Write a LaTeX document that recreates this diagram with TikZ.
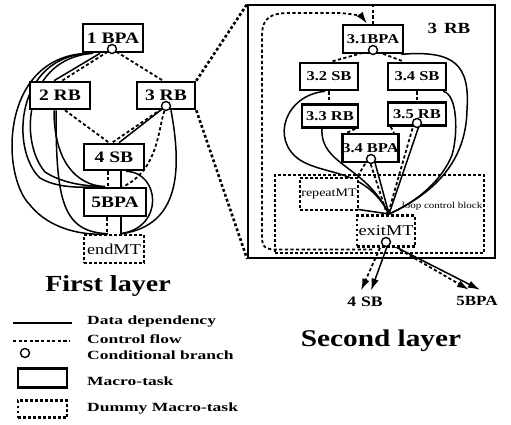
\documentclass[tikz,border=0pt]{standalone}
\usepackage{fontspec}
\setmainfont{Liberation Serif}[FakeStretch=1.22]
\newfontfamily\legendfont{Liberation Serif}[FakeStretch=1.4]
\usetikzlibrary{arrows.meta,calc,backgrounds}
\newcommand\txtsize[1]{\fontsize{#1}{#1}\selectfont}
\begin{document}
\begin{tikzpicture}[x=1pt,y=-1pt,
  mtask/.style={draw, line width=2.6pt, fill=white, inner sep=0pt, font=\bfseries\txtsize{16}},
  subtask/.style={mtask, font=\bfseries\txtsize{13.5}},
  dummytask/.style={draw, line width=2.6pt, dash pattern=on 2.8pt off 2.2pt, fill=white, inner sep=0pt, font=\txtsize{15}},
  datadep/.style={line width=1.5pt},
  ctrlflow/.style={line width=1.8pt, dash pattern=on 3.2pt off 2.4pt},
  dotlink/.style={line width=2.6pt, dash pattern=on 2.8pt off 2.4pt},
  condbr/.style={circle, draw, line width=1.4pt, fill=white, inner sep=0pt, minimum size=9pt},
  arrowed/.style={-{Latex[length=12pt,width=7.5pt]}},
  legendtext/.style={anchor=west, inner sep=0pt, font=\legendfont\bfseries\txtsize{12.5}},
]
\useasboundingbox (0,0) rectangle (511,424);

% ---------------- first layer ----------------
\node[mtask, minimum width=60pt, minimum height=28pt] (n1) at (113,38) {1 BPA};
\node[mtask, minimum width=60pt, minimum height=27pt] (n2) at (60,95.5) {2 RB};
\node[mtask, minimum width=58pt, minimum height=27pt] (n3) at (166,95.5) {3 RB};
\node[mtask, minimum width=60pt, minimum height=26pt] (n4) at (114,157) {4 SB};
\node[mtask, minimum width=62pt, minimum height=28pt] (n5) at (115,202) {5BPA};
\node[dummytask, minimum width=60pt, minimum height=28pt] (ne) at (114,249) {endMT};
\node[condbr] (c1) at (112,49) {};
\node[condbr] (c3) at (166,106) {};
\node[font=\bfseries\txtsize{23}] (title1) at (108,286) {First layer};

% ---------------- second layer ----------------
\node[draw, line width=1.8pt, minimum width=247pt, minimum height=253pt, inner sep=0pt] (big) at (371.5,131.5) {};
\node[font=\bfseries\txtsize{15.5}] (lbl3) at (449,28) {3\hspace{7pt}RB};
\node[dummytask, fill=none, minimum width=209pt, minimum height=78pt] (loop) at (379.5,214) {};
\node[font=\txtsize{9}, inner sep=0.5pt] (looptxt) at (442,206) {loop control block};

\node[subtask, minimum width=60pt, minimum height=28pt] (s31) at (373,39) {3.1BPA};
\node[subtask, minimum width=58pt, minimum height=27pt] (s32) at (329,76.5) {3.2 SB};
\node[subtask, minimum width=58pt, minimum height=27pt] (s34) at (417,76.5) {3.4 SB};
\node[subtask, minimum width=56pt, minimum height=23pt] (s33) at (330,116) {3.3 RB};
\node[subtask, minimum width=58pt, minimum height=23pt] (s35) at (417,114) {3.5 RB};
\node[subtask, minimum width=56pt, minimum height=28pt] (s34b) at (370.5,148) {3.4 BPA};
\node[dummytask, minimum width=58pt, minimum height=32pt, font=\txtsize{11.5}] (rep) at (329,194) {repeatMT};
\node[dummytask, minimum width=58pt, minimum height=31pt] (exit) at (386,231) {exitMT};

\node[condbr] (c31) at (373,50) {};
\node[condbr] (c35) at (417,123) {};
\node[condbr] (c34b) at (371,159) {};
\node[condbr] (cex) at (386,242) {};

\coordinate (conv) at (389,214);
\coordinate (in31) at (big.north -| s31.north);
\coordinate (rep0) at (372,249.5);

\node[font=\bfseries\txtsize{14.5}] (o4) at (365,302) {4\hspace{5pt}SB};
\node[font=\bfseries\txtsize{14}] (o5) at (477,301) {5BPA};
\node[font=\bfseries\txtsize{24}] (title2) at (381,341) {Second layer};

% ---------------- legend ----------------
\coordinate (la) at (13,323); \coordinate (lb) at (72,323);
\coordinate (lc) at (13,341); \coordinate (ld) at (70,341);
\node[condbr] (lcirc) at (25,353) {};
\node[mtask, minimum width=49pt, minimum height=19pt] (lmt) at (42.5,378) {};
\node[dummytask, minimum width=49pt, minimum height=17pt] (ldmt) at (42.5,409) {};
\node[legendtext] (t1) at (87,322) {Data dependency};
\node[legendtext] (t2) at (87,339) {Control flow};
\node[legendtext] (t3) at (87,355) {Conditional branch};
\node[legendtext] (t4) at (87,381) {Macro-task};
\node[legendtext] (t5) at (87,409) {Dummy Macro-task};

\begin{scope}[on background layer]
  % legend samples
  \draw[datadep] (la) -- (lb);
  \draw[ctrlflow] (lc) -- (ld);

  % first layer: control flow
  \draw[ctrlflow] (c1) -- ($(n2.north)+(2,0)$);
  \draw[ctrlflow] (c1) -- ($(n3.north)+(-3,0)$);
  \draw[ctrlflow] ($(n2.south)+(5,0)$) -- ($(n4.north)+(-5,0)$);
  \draw[ctrlflow] (c3) -- ($(n4.north)+(-2,0)$);
  \draw[ctrlflow] (c3) .. controls (158,130) and (158,170) .. ($(n5.north)+(8,0)$);
  \draw[ctrlflow] ($(n4.south)+(-6,0)$) -- ($(n5.north)+(-7,0)$);
  \draw[ctrlflow] ($(n5.south)+(-8,0)$) -- ($(ne.north)+(-7,0)$);

  % first layer: data dependencies
  \draw[datadep] ($(n1.south)+(-13,0)$) -- ($(n2.north)+(-6,0)$);
  \draw[datadep] ($(n1.south)+(-24,0)$) .. controls (0,55) and (0,175) .. (30,205)
                 .. controls (50,230) and (85,236) .. ($(ne.north)+(-6,0)$);
  \draw[datadep] ($(n1.south)+(-22,0)$) .. controls (15,55) and (10,150) .. (40,178)
                 .. controls (60,190) and (90,187) .. ($(n5.north)+(-10,0)$);
  \draw[datadep] ($(n1.south)+(-20,0)$) .. controls (25,58) and (18,140) .. (45,172)
                 .. controls (65,185) and (90,186) .. ($(n5.north)+(-10,0)$);
  \draw[datadep] ($(n2.south)+(-6,0)$) .. controls (54,160) and (75,185) .. ($(n5.north)+(-10,0)$);
  \draw[datadep] ($(n2.south)+(-4,0)$) .. controls (56,200) and (62,232) .. ($(ne.north)+(-6,0)$);
  \draw[datadep] (c3) -- ($(n4.north)+(5,0)$);
  \draw[datadep] ($(n3.south)+(5,0)$) .. controls (182,170) and (180,225) .. ($(ne.north)+(8,0)$);
  \draw[datadep] ($(n4.south)+(12,0)$) .. controls (160,172) and (165,228) .. ($(ne.north)+(6,0)$);
  \draw[datadep] ($(n4.south)+(7,0)$) -- ($(n5.north)+(6,0)$);
  \draw[datadep] ($(n5.south)+(6,0)$) -- ($(ne.north)+(7,0)$);

  % links from 3 RB to its expansion
  \draw[dotlink] (n3.north east) -- (big.north west);
  \draw[dotlink] (n3.south east) -- (big.south west);

  % second layer: control flow
  \draw[ctrlflow] (in31) -- (s31.north);
  \draw[ctrlflow, arrowed] (rep0) -- (276,249.5) .. controls (264,249.5) and (262,246) .. (262,236)
                 -- (262,36) .. controls (262,18) and (270,13) .. (290,13)
                 -- (335,13) .. controls (352,13) and (362,17) .. ($(s31.north)+(-6,0)$);
  \draw[ctrlflow] (c31) -- ($(s32.north)+(2,0)$);
  \draw[ctrlflow] (c31) -- ($(s34.north)+(-13,0)$);
  \draw[ctrlflow] (s32.south) -- (s32.south |- s33.north);
  \draw[ctrlflow] (s34.south) -- (s34.south |- s35.north);
  \draw[ctrlflow] ($(s33.south east)+(-4,0)$) -- ($(s34b.north west)+(6,0)$);
  \draw[ctrlflow] ($(s35.south west)+(4,0)$) -- ($(s34b.north east)+(-6,0)$);
  \draw[ctrlflow] ($(c35.center)+(-3,0)$) -- ($(conv)+(-1,0)$);
  \draw[ctrlflow] ($(c34b.center)+(-2,0)$) -- ($(conv)+(-2,0)$);
  \draw[ctrlflow] ($(c34b.center)+(-3,0)$) -- ($(rep.north east)+(-2,0)$);

  % second layer: data dependencies
  \draw[datadep] ($(s31.south east)+(-3,0)$) .. controls (455,50) and (470,65) .. (467,110)
                 .. controls (466,165) and (430,195) .. (conv);
  \draw[datadep] ($(s34.south east)+(-4,0)$) .. controls (458,95) and (458,135) .. (452,155)
                 .. controls (440,185) and (410,205) .. (conv);
  \draw[datadep] ($(s32.south)+(-4,0)$) .. controls (285,95) and (270,140) .. (300,160)
                 .. controls (325,176) and (365,168) .. (conv);
  \draw[datadep] ($(s33.south)+(-8,0)$) .. controls (320,165) and (365,165) .. (conv);
  \draw[datadep] ($(c35.center)+(3,0)$) -- (conv);
  \draw[datadep] ($(c34b.center)+(3,0)$) -- (conv);
  \draw[datadep] ($(rep.south east)+(-2,-2)$) -- (conv);

  % exits of the loop
  \draw[ctrlflow, arrowed] ($(exit.south)+(-6,0)$) -- ($(o4.north)+(-4,-3)$);
  \draw[datadep, arrowed] ($(cex.center)+(2,2)$) -- ($(o4.north)+(6,-3)$);
  \draw[datadep, arrowed] ($(cex.center)+(6,3)$) -- ($(o5.north)+(3,-3)$);
  \draw[ctrlflow, arrowed] ($(exit.south)+(14,2)$) -- ($(o5.north)+(-8,-3)$);
\end{scope}
\end{tikzpicture}
\end{document}
